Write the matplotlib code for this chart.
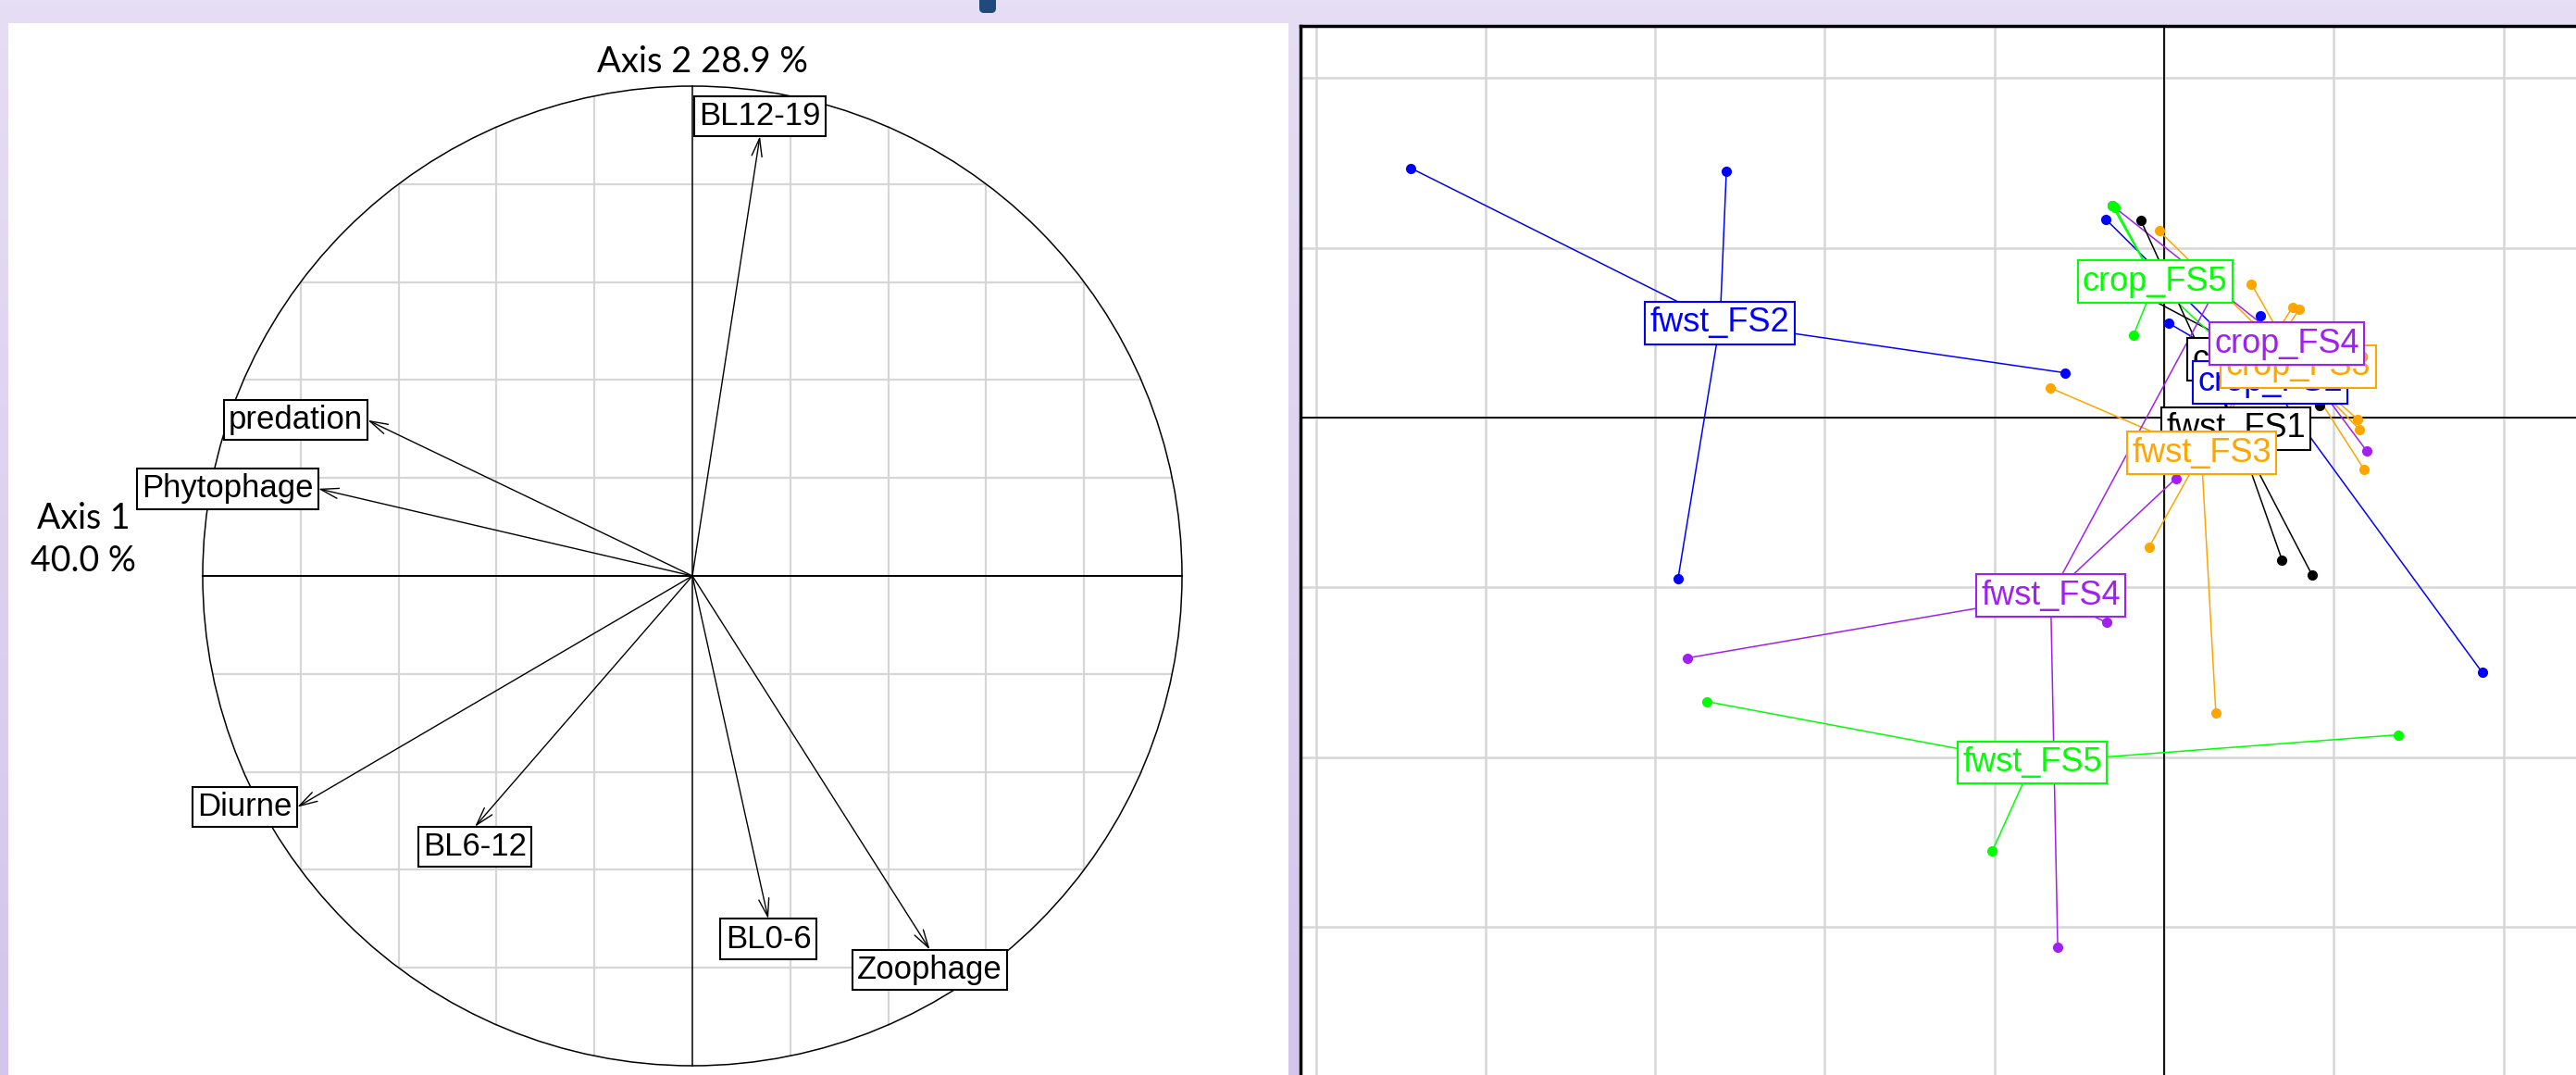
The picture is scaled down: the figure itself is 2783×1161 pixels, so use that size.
import numpy as np
import matplotlib.pyplot as plt
from matplotlib.patches import Circle, FancyBboxPatch
from matplotlib.transforms import IdentityTransform

### Figure parameters ###
W, H = 2783, 1161
my_dpi = 100
plt.rcParams['font.family'] = ['Liberation Sans', 'DejaVu Sans']

### Left panel: correlation circle (ade4 s.corcircle) ###
var_names = ['BL12-19', 'predation', 'Phytophage', 'Diurne', 'BL6-12', 'BL0-6', 'Zoophage']
var_x = [0.138, -0.663, -0.764, -0.807, -0.444, 0.155, 0.485]
var_y = [0.898, 0.318, 0.178, -0.472, -0.512, -0.700, -0.763]
axis1_label = 'Axis 1\n40.0 %'
axis2_label = 'Axis 2 28.9 %'

### Right panel: sites grouped by class (ade4 s.class) ###
class_names = ['crop_FS1', 'crop_FS2', 'crop_FS3', 'crop_FS4', 'crop_FS5',
               'fwst_FS1', 'fwst_FS2', 'fwst_FS3', 'fwst_FS4', 'fwst_FS5']
class_colors = ['black', 'blue', 'orange', '#A020F0', '#00FF00',
                'black', 'blue', 'orange', '#A020F0', '#00FF00']

site_group = (['crop_FS1'] * 4 + ['crop_FS2'] * 5 + ['crop_FS3'] * 5 + ['crop_FS4'] * 4
              + ['crop_FS5'] * 4 + ['fwst_FS1'] * 4 + ['fwst_FS2'] * 4 + ['fwst_FS3'] * 5
              + ['fwst_FS4'] * 5 + ['fwst_FS5'] * 3)
site_x = [0.917, -0.30, 0.85, 0.913,
          1.874, -0.344, 0.029, 0.566, 1.0,
          -0.03, 0.515, 1.139, 1.153, 1.178,
          -0.307, 1.193, 0.98, 1.026,
          -0.307, -0.29, -0.18, 0.565,
          -0.137, 0.695, 0.873, 0.26,
          -4.44, -2.58, -0.585, -2.865,
          -0.671, -0.089, 0.305, 0.757, 0.797,
          -2.807, -0.339, -0.627, 0.07, 0.36,
          -2.697, 1.379, -1.013]
site_y = [0.069, 0.815, 0.26, 0.224,
          -1.50, 1.169, 0.555, 0.602, 0.214,
          1.10, 0.787, -0.009, -0.071, -0.304,
          1.251, -0.195, 0.30, 0.384,
          1.251, 1.24, 0.487, 0.226,
          1.162, -0.838, -0.929, 0.345,
          1.47, 1.45, 0.264, -0.95,
          0.175, -0.764, -1.74, 0.651, 0.638,
          -1.416, -1.208, -3.123, -0.358, 0.86,
          -1.673, -1.869, -2.555]

fig = plt.figure(figsize=(W / my_dpi, H / my_dpi), dpi=my_dpi)
fig.patch.set_facecolor('#E5DCF3')


def px_axes(x0, y0, x1, y1):
    # pixel box measured from the top-left corner
    return fig.add_axes([x0 / W, 1 - y1 / H, (x1 - x0) / W, (y1 - y0) / H])


# background: lavender, a bit darker towards the bottom
bg = fig.add_axes([0, 0, 1, 1], zorder=-10)
grad = np.linspace(0, 1, 256)[:, None]
top_c = np.array([230, 222, 244]) / 255
bot_c = np.array([212, 197, 236]) / 255
bg.imshow(top_c * (1 - grad[..., None]) + bot_c * grad[..., None], aspect='auto',
          extent=[0, 1, 0, 1])
bg.axis('off')

# small dark tab at the top of the window
fig.patches.append(FancyBboxPatch((1058, H - 14), 18, 30, boxstyle='round,pad=0,rounding_size=5',
                                  transform=IdentityTransform(), fc='#1F4A7E', ec='none'))

# ---------------- left panel ----------------
ax1 = px_axes(9, 25, 1392, 1161)
cx, cy, r = 748, 622, 529
ax1.set_xlim((9 - cx) / r, (1392 - cx) / r)
ax1.set_ylim((cy - 1161) / r, (cy - 25) / r)
ax1.set_facecolor('white')
ax1.set_xticks([])
ax1.set_yticks([])
for s in ax1.spines.values():
    s.set_visible(False)

# grid clipped by the unit circle
for g in [-0.8, -0.6, -0.4, -0.2, 0.2, 0.4, 0.6, 0.8]:
    h = np.sqrt(1 - g ** 2)
    ax1.plot([-h, h], [g, g], color='#D6D6D6', lw=1.6, zorder=1)
    ax1.plot([g, g], [-h, h], color='#D6D6D6', lw=1.6, zorder=1)
ax1.plot([-1, 1], [0, 0], color='black', lw=1.4, zorder=2)
ax1.plot([0, 0], [-1, 1], color='black', lw=1.1, zorder=2)
ax1.add_patch(Circle((0, 0), 1, fill=False, ec='black', lw=1.1, zorder=2))

pad = 0.15
for name, x, y in zip(var_names, var_x, var_y):
    ax1.annotate('', xy=(x, y), xytext=(0, 0),
                 arrowprops=dict(arrowstyle='->,head_length=0.7,head_width=0.2', color='black',
                                 lw=1.0, shrinkA=0, shrinkB=0, mutation_scale=20), zorder=3)
    gap = pad * 25
    if abs(x) > abs(y):
        ha, va = ('right' if x < 0 else 'left'), 'center'
        off = (-gap if x < 0 else gap, 0)
    else:
        ha, va = 'center', ('top' if y < 0 else 'bottom')
        off = (0, -gap if y < 0 else gap)
    ax1.annotate(name, xy=(x, y), xytext=off, textcoords='offset points', ha=ha, va=va,
                 fontsize=25, color='black', zorder=4,
                 bbox=dict(boxstyle='square,pad=%.2f' % pad, fc='white', ec='black', lw=1.5))

ax1.text(0.02, 1.05, axis2_label, ha='center', va='center', fontsize=27.5, family='Lato')
ax1.text(-1.244, 0.074, axis1_label, ha='center', va='center', fontsize=27, family='Lato',
         linespacing=1.35)

# ---------------- right panel ----------------
ax2 = px_axes(1405, 28, 2783, 1161)
ox, oy, d = 2338, 451, 183.3
ax2.set_xlim((1405 - ox) / d, (2783 - ox) / d)
ax2.set_ylim((oy - 1161) / d, (oy - 28) / d)
ax2.set_facecolor('white')
ax2.set_xticks(range(-5, 3))
ax2.set_yticks(range(-3, 3))
ax2.tick_params(length=0, labelbottom=False, labelleft=False)
ax2.grid(color='#D6D6D6', lw=1.8, zorder=0)
ax2.set_axisbelow(True)
ax2.axhline(0, color='black', lw=1.3, zorder=1)
ax2.axvline(0, color='black', lw=1.3, zorder=1)
for side in ['right', 'bottom']:
    ax2.spines[side].set_visible(False)
for side in ['left', 'top']:
    ax2.spines[side].set_linewidth(2.5)

site_x = np.array(site_x)
site_y = np.array(site_y)
site_group = np.array(site_group)
centres = {}
for name, col in zip(class_names, class_colors):
    m = site_group == name
    gx, gy = site_x[m].mean(), site_y[m].mean()
    centres[name] = (gx, gy)
    for px, py in zip(site_x[m], site_y[m]):
        ax2.plot([gx, px], [gy, py], color=col, lw=1.1, zorder=2)
for name, col in zip(class_names, class_colors):
    m = site_group == name
    ax2.plot(site_x[m], site_y[m], 'o', ms=7, color=col, mec=col, zorder=3)
for k, (name, col) in enumerate(zip(class_names, class_colors)):
    gx, gy = centres[name]
    ax2.text(gx, gy, name, ha='center', va='center', fontsize=26, color=col, zorder=4 + k,
             bbox=dict(boxstyle='square,pad=%.2f' % pad, fc='white', ec=col, lw=1.5))

fig.savefig('out.png', dpi=my_dpi, facecolor=fig.get_facecolor())
